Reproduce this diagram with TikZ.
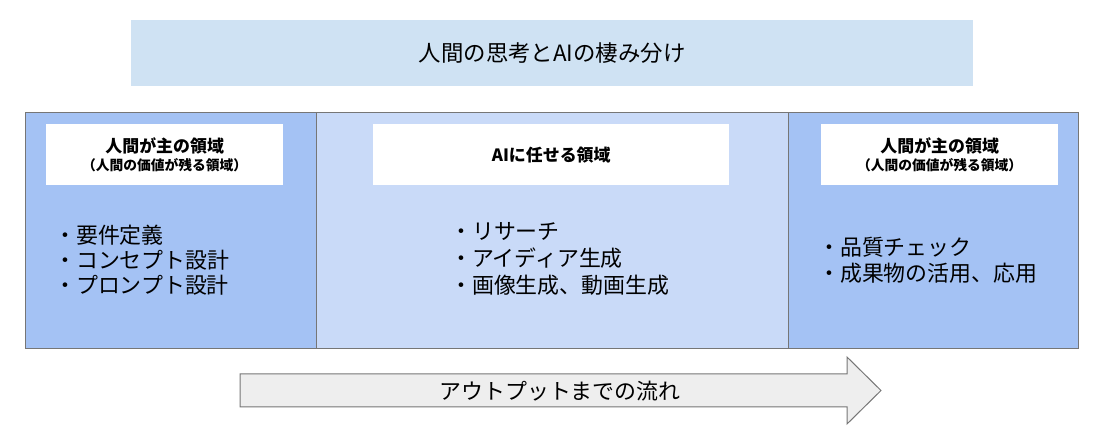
\documentclass[tikz,border=0pt]{standalone}
\usepackage{fontspec}
\setmainfont{Noto Sans CJK JP}
\usepackage{tikz}

\definecolor{titleblue}{HTML}{CFE2F3}
\definecolor{humanblue}{HTML}{A4C2F4}
\definecolor{aiblue}{HTML}{C9DAF8}
\definecolor{edgegray}{HTML}{767676}
\definecolor{flowgray}{HTML}{EEEEEE}
\newcommand{\subfont}{\bfseries\fontsize{13.8}{16}\selectfont}

\begin{document}
\begin{tikzpicture}[x=1bp, y=-1bp,
  panel/.style={draw=edgegray, line width=1bp, anchor=north west, inner sep=0pt},
  headbox/.style={fill=white, anchor=north west, inner sep=0pt, minimum height=61bp},
  headtext/.style={align=center, font=\bfseries\fontsize{17}{18.5}\selectfont},
  itemlist/.style={anchor=west, align=left, inner sep=0pt, font=\fontsize{22}{#1}\selectfont},
  itemlist/.default=26bp]
\useasboundingbox (0,0) rectangle (1096,437);
% title bar
\node [fill=titleblue, anchor=north west, inner sep=0pt, minimum width=842bp, minimum height=66bp] (title) at (131,20) {};
\node [font=\fontsize{22.5}{26}\selectfont] (titletext) at (title.center) {人間の思考とAIの棲み分け};
% three areas
\node [panel, fill=humanblue, minimum width=291bp, minimum height=236bp] (humanA) at (25,112) {};
\node [panel, fill=aiblue, minimum width=472bp, minimum height=236bp] (ai) at (316,112) {};
\node [panel, fill=humanblue, minimum width=290bp, minimum height=236bp] (humanB) at (788,112) {};
% headings
\node [headbox, minimum width=237bp] (headA) at (46,124) {};
\node [headtext] (headAtext) at (headA.center) {人間が主の領域\\{\subfont（人間の価値が残る領域）}};
\node [headbox, minimum width=356bp] (headAI) at (373,124) {};
\node [headtext] (headAItext) at (headAI.center) {AIに任せる領域};
\node [headbox, minimum width=237bp] (headB) at (821,124) {};
\node [headtext] (headBtext) at (headB.center) {人間が主の領域\\{\subfont（人間の価値が残る領域）}};
% items
\node [itemlist=25bp] (itemsA) at (54,260) {・要件定義\\・コンセプト設計\\・プロンプト設計};
\node [itemlist=27bp] (itemsAI) at (450,259) {・リサーチ\\・アイディア生成\\・画像生成、動画生成};
\node [itemlist=26bp] (itemsB) at (818,260) {・品質チェック\\・成果物の活用、応用};
% flow arrow
\draw [draw=edgegray, fill=flowgray, line width=1bp] (240,374) -- (847,374) -- (847,357) -- (881,390.5) -- (847,424) -- (847,407) -- (240,407) -- cycle;
\node [font=\fontsize{22}{25}\selectfont] (flow) at (560,391) {アウトプットまでの流れ};
\end{tikzpicture}
\end{document}
